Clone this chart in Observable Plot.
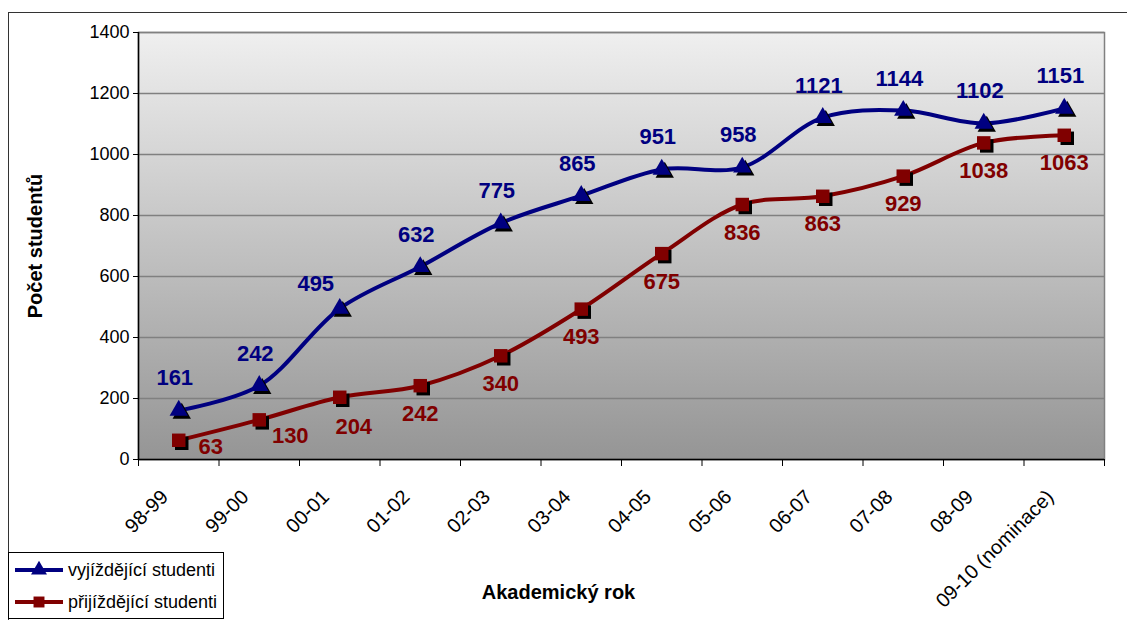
<!DOCTYPE html>
<html>
<head>
<meta charset="utf-8">
<script src="https://cdn.jsdelivr.net/npm/d3@7"></script>
<script src="https://cdn.jsdelivr.net/npm/@observablehq/plot@0.6"></script>
<style>
  html, body { margin: 0; padding: 0; background: #fff; }
  #wrap { position: relative; width: 1127px; height: 620px; overflow: hidden; font-family: "Liberation Sans", Arial, sans-serif; }
  #outer { position: absolute; left: 8px; top: 12px; width: 1200px; height: 700px; border-left: 1.5px solid #333; border-top: 1.5px solid #333; pointer-events: none; }
  #legend { position: absolute; left: 8px; top: 552px; width: 214px; height: 65px; border: 1px solid #000; background: #fff; font-size: 18px; color: #000; }
  .item { position: absolute; left: 4px; height: 24px; display: flex; align-items: center; }
  .item svg { margin-right: 3px; }
  #chart svg { position: absolute; left: 0; top: 0; }
</style>
</head>
<body>
<div id="wrap">
  <div id="chart"></div>
  <div id="outer"></div>
  <div id="legend"></div>
</div>
<script>
const years = ["98-99","99-00","00-01","01-02","02-03","03-04","04-05","05-06","06-07","07-08","08-09","09-10 (nominace)"];
const outgoing = [161,242,495,632,775,865,951,958,1121,1144,1102,1151];
const incoming = [63,130,204,242,340,493,675,836,863,929,1038,1063];
const seriesNames = ["vyjíždějící studenti", "přijíždějící studenti"];
const yTicks = [0,200,400,600,800,1000,1200,1400];
const yTitle = "Počet studentů";
const xTitle = "Akademický rok";

const blue = "#000080", red = "#800000";
const out = years.map((y, i) => ({i, v: outgoing[i]}));
const inc = years.map((y, i) => ({i, v: incoming[i]}));
const boundaries = d3.range(years.length + 1).map(k => k - 0.5);

function labels(data, idx, color, dx, dy) {
  return Plot.text(data.filter(d => idx.includes(d.i)), {
    x: "i", y: "v", text: d => String(d.v), fill: color, dx, dy,
    fontSize: 22, fontWeight: "bold"
  });
}
const allIdx = d3.range(years.length);

const plot = Plot.plot({
  width: 1127, height: 620,
  marginLeft: 138, marginRight: 23, marginTop: 32, marginBottom: 161,
  style: {fontFamily: "Liberation Sans, Arial, sans-serif", background: "transparent", overflow: "visible"},
  x: {type: "linear", domain: [-0.5, years.length - 0.5]},
  y: {domain: [0, 1400]},
  marks: [
    Plot.frame({fill: "url(#bggrad)", stroke: "#808080", strokeWidth: 1.5}),
    Plot.gridY(yTicks, {stroke: "#808080", strokeOpacity: 1, strokeWidth: 1.5}),
    Plot.ruleY([0], {stroke: "#000", strokeWidth: 1.5}),
    Plot.ruleX([-0.5], {stroke: "#000", strokeWidth: 1.5}),
    Plot.axisY({ticks: yTicks, tickSize: 5, tickPadding: 4, fontSize: 18, tickFormat: d => String(d), label: null, stroke: "#000"}),
    Plot.axisX({ticks: boundaries, tickSize: 7, tickFormat: () => "", label: null, stroke: "#000"}),
    Plot.axisX({ticks: allIdx, tickSize: 0, tickPadding: 24, dx: -14, dy: 10, tickRotate: -45, fontSize: 20, tickFormat: i => years[i], label: null}),
    Plot.text([yTitle], {frameAnchor: "left", textAnchor: "middle", dx: -103, rotate: -90, fontSize: 20, fontWeight: "bold", text: d => d}),
    Plot.text([xTitle], {frameAnchor: "bottom", dx: -63, dy: 139, fontSize: 20, fontWeight: "bold", text: d => d}),
    Plot.line(inc, {x: "i", y: "v", stroke: red, strokeWidth: 4, curve: "catmull-rom"}),
    Plot.line(out, {x: "i", y: "v", stroke: blue, strokeWidth: 4, curve: "catmull-rom"}),
    Plot.dot(inc, {x: "i", y: "v", symbol: "square", r: 7.6, fill: "#000", dx: 3, dy: 3}),
    Plot.dot(inc, {x: "i", y: "v", symbol: "square", r: 7.6, fill: red}),
    Plot.dot(out, {x: "i", y: "v", symbol: "triangle", r: 6.8, fill: "#000", dx: 3, dy: 3}),
    Plot.dot(out, {x: "i", y: "v", symbol: "triangle", r: 6.8, fill: blue}),
    labels(out, allIdx.filter(i => i !== 2), blue, -4, -32),
    labels(out, [2], blue, -24, -25),
    labels(inc, allIdx.filter(i => i > 2), red, 0, 28),
    labels(inc, [0], red, 32, 7),
    labels(inc, [1], red, 31, 16),
    labels(inc, [2], red, 14, 30)
  ]
});

const svg = d3.select(plot);
const defs = svg.insert("defs", ":first-child");
const g = defs.append("linearGradient").attr("id", "bggrad").attr("x1", 0).attr("y1", 0).attr("x2", 0).attr("y2", 1);
g.append("stop").attr("offset", "0%").attr("stop-color", "#efefef");
g.append("stop").attr("offset", "100%").attr("stop-color", "#959595");
document.getElementById("chart").appendChild(plot);

// legend
const legend = document.getElementById("legend");
[[blue, "triangle"], [red, "square"]].forEach(([c, sym], k) => {
  const item = document.createElement("div");
  item.className = "item";
  item.style.top = (k === 0 ? 5 : 37) + "px";
  const s = d3.create("svg").attr("width", 52).attr("height", 20);
  s.append("line").attr("x1", 2).attr("x2", 50).attr("y1", 10).attr("y2", 10).attr("stroke", c).attr("stroke-width", 4);
  const shape = sym === "triangle" ? d3.symbolTriangle : d3.symbolSquare;
  s.append("path").attr("d", d3.symbol(shape, sym === "triangle" ? 110 : 120)()).attr("transform", "translate(26,10)").attr("fill", c);
  item.appendChild(s.node());
  const t = document.createElement("span");
  t.textContent = seriesNames[k];
  item.appendChild(t);
  legend.appendChild(item);
});
</script>
</body>
</html>
